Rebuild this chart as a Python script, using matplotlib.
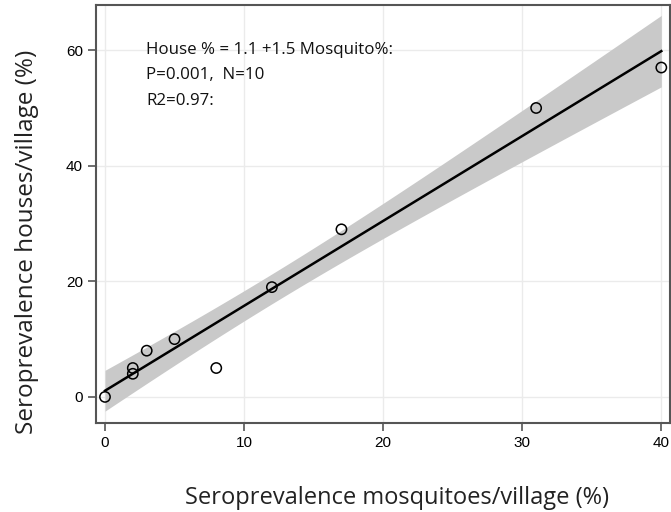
import numpy as np
import matplotlib.pyplot as plt

# village data
mosquito_pct = np.array([0, 2, 2, 3, 5, 8, 12, 17, 31, 40])
house_pct = np.array([0, 5, 4, 8, 10, 5, 19, 29, 50, 57])
x_ticks = [0, 10, 20, 30, 40]
y_ticks = [0, 20, 40, 60]
note_lines = ["House % = 1.1 +1.5 Mosquito%:", "P=0.001,  N=10", "R2=0.97:"]

# linear fit + 95% CI of the mean
n = len(mosquito_pct)
b, a = np.polyfit(mosquito_pct, house_pct, 1)
resid = house_pct - (a + b * mosquito_pct)
s = np.sqrt(np.sum(resid ** 2) / (n - 2))
sxx = np.sum((mosquito_pct - mosquito_pct.mean()) ** 2)
t_crit = 2.306  # t(0.975, df=8)
xs = np.linspace(mosquito_pct.min(), mosquito_pct.max(), 200)
fit = a + b * xs
half = t_crit * s * np.sqrt(1 / n + (xs - mosquito_pct.mean()) ** 2 / sxx)

fig = plt.figure(figsize=(6.71, 5.12), dpi=100)
ax = fig.add_axes([0.143, 0.174, 0.855, 0.816])

ax.fill_between(xs, fit - half, fit + half, color="#c9c9c9", lw=0, zorder=1)
ax.plot(xs, fit, color="black", lw=1.8, zorder=2)
ax.scatter(mosquito_pct, house_pct, s=55, facecolors="none", edgecolors="black",
           linewidths=1.1, zorder=3)

ax.set_xlim(-0.65, 40.6)
ax.set_ylim(-4.5, 67.8)
ax.set_xticks(x_ticks)
ax.set_yticks(y_ticks)
ax.grid(True, color="#ebebeb", lw=1)
ax.set_axisbelow(True)
for sp in ax.spines.values():
    sp.set_color("#555555")
    sp.set_linewidth(1.5)
ax.tick_params(length=6, width=1.2, color="#555555", labelsize=11)
for lab in ax.get_xticklabels() + ax.get_yticklabels():
    lab.set_fontfamily("Liberation Sans")

# axis titles placed where the original has them
fig.text(0.5917, 0.027, "Seroprevalence mosquitoes/village (%)", fontsize=17,
         fontfamily="Open Sans", ha="center", va="center", color="#222222")
fig.text(0.040, 0.527, "Seroprevalence houses/village (%)", fontsize=17.5,
         fontfamily="Open Sans", ha="center", va="center", rotation=90,
         color="#222222")

for i, line in enumerate(note_lines):
    ax.text(0.088, 0.893 - i * 0.061, line, transform=ax.transAxes,
            fontsize=12.2, fontfamily="Open Sans", va="center", color="#111111")

fig.savefig("out.png", dpi=100)
